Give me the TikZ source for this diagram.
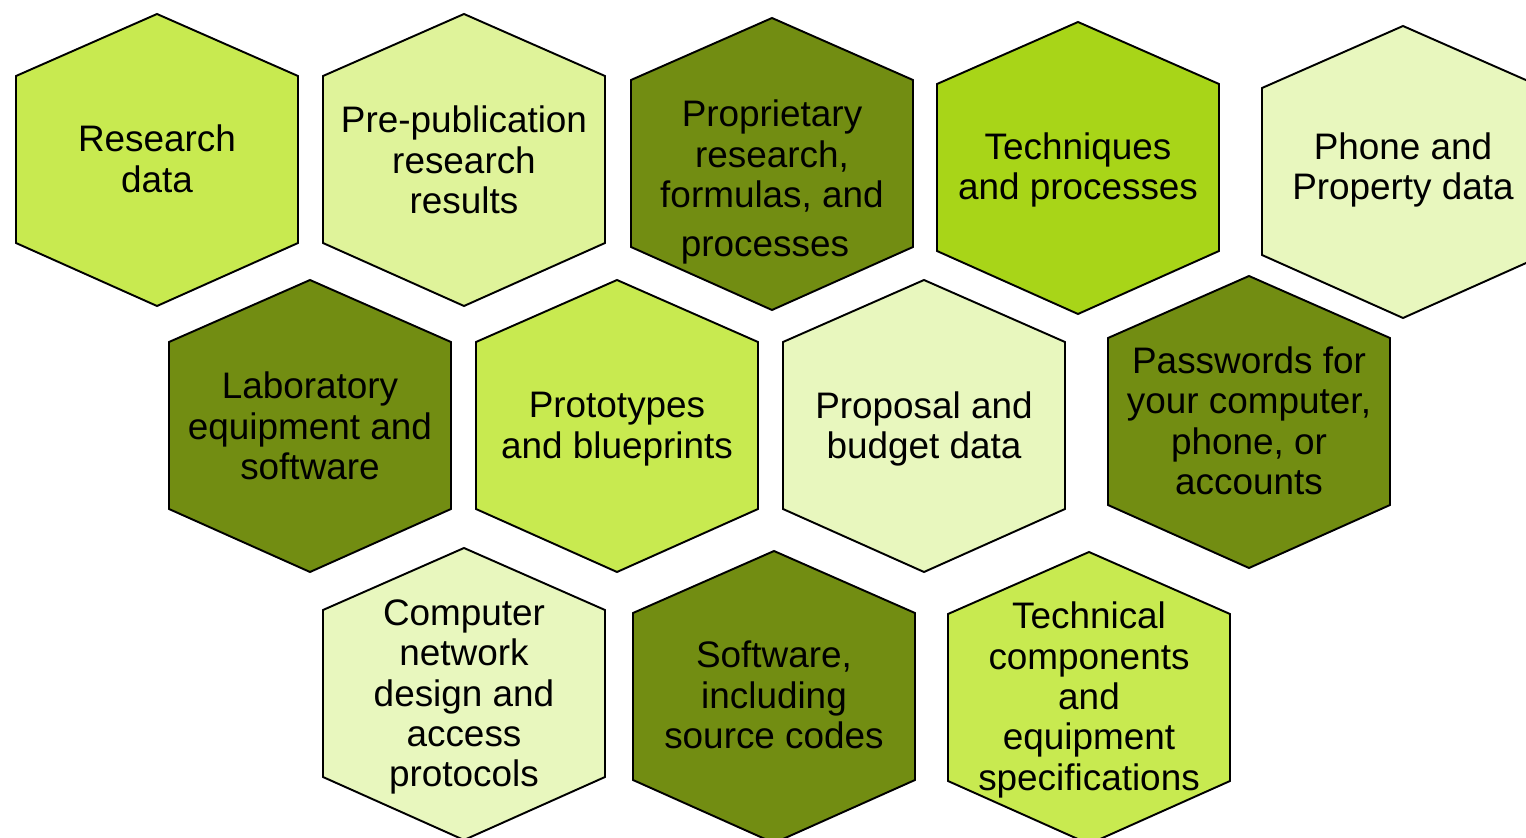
\documentclass[tikz,border=0pt]{standalone}
\usepackage{fontspec}
\setmainfont{Liberation Sans}
\usepackage{tikz}

\definecolor{hexLime}{RGB}{200,234,80}
\definecolor{hexPale}{RGB}{223,243,154}
\definecolor{hexPaler}{RGB}{232,247,190}
\definecolor{hexOlive}{RGB}{114,141,18}
\definecolor{hexBright}{RGB}{168,213,24}

\begin{document}
\begin{tikzpicture}[x=0.02cm,y=-0.02cm,
  hexcell/.pic={\draw[draw=black,line width=1.1pt,line join=miter,pic actions]
     (0,-146) -- (141,-84) -- (141,83) -- (0,146) -- (-141,83) -- (-141,-84) -- cycle;},
  cellText/.style={align=center,inner sep=0pt,text=black,
     font=\fontsize{21pt}{23pt}\selectfont}]
\useasboundingbox (0,0) rectangle (1526,838);
\clip (0,0) rectangle (1526,838);
% First row
\pic[fill=hexLime]   at (157,160)  {hexcell};
\pic[fill=hexPale]   at (464,160)  {hexcell};
\pic[fill=hexOlive]  at (772,164)  {hexcell};
\pic[fill=hexBright] at (1078,168) {hexcell};
\pic[fill=hexPaler]  at (1403,172) {hexcell};
\node[cellText] (resData)  at (157,159)  {Research\\data};
\node[cellText] (prePub)   at (464,160)  {Pre-publication\\research\\results};
\node[cellText] (propRes)  at (772,182)  {Proprietary\\research,\\formulas, and\\[4.5pt]processes\hspace*{0.28cm}};
\node[cellText] (techProc) at (1078,170) {Techniques\\and processes};
\node[cellText] (phoneData) at (1403,170) {Phone and\\Property data};
% Second row
\pic[fill=hexOlive]  at (310,426)  {hexcell};
\pic[fill=hexLime]   at (617,426)  {hexcell};
\pic[fill=hexPaler]  at (924,426)  {hexcell};
\pic[fill=hexOlive]  at (1249,422) {hexcell};
\node[cellText] (labEquip)  at (310,426)  {Laboratory\\equipment and\\software};
\node[cellText] (protoBlue) at (617,429)  {Prototypes\\and blueprints};
\node[cellText] (propBudget) at (924,429) {Proposal and\\budget data};
\node[cellText] (passwords) at (1249,421) {Passwords for\\your computer,\\phone, or\\accounts};
% Third row
\pic[fill=hexPaler]  at (464,694)  {hexcell};
\pic[fill=hexOlive]  at (774,697)  {hexcell};
\pic[fill=hexLime]   at (1089,698) {hexcell};
\node[cellText] (netDesign) at (464,697)  {Computer\\network\\design and\\access\\protocols};
\node[cellText] (softSrc)   at (774,695)  {Software,\\including\\source codes};
\node[cellText] (techSpec)  at (1089,700) {Technical\\components\\and\\equipment\\specifications};
\end{tikzpicture}
\end{document}
